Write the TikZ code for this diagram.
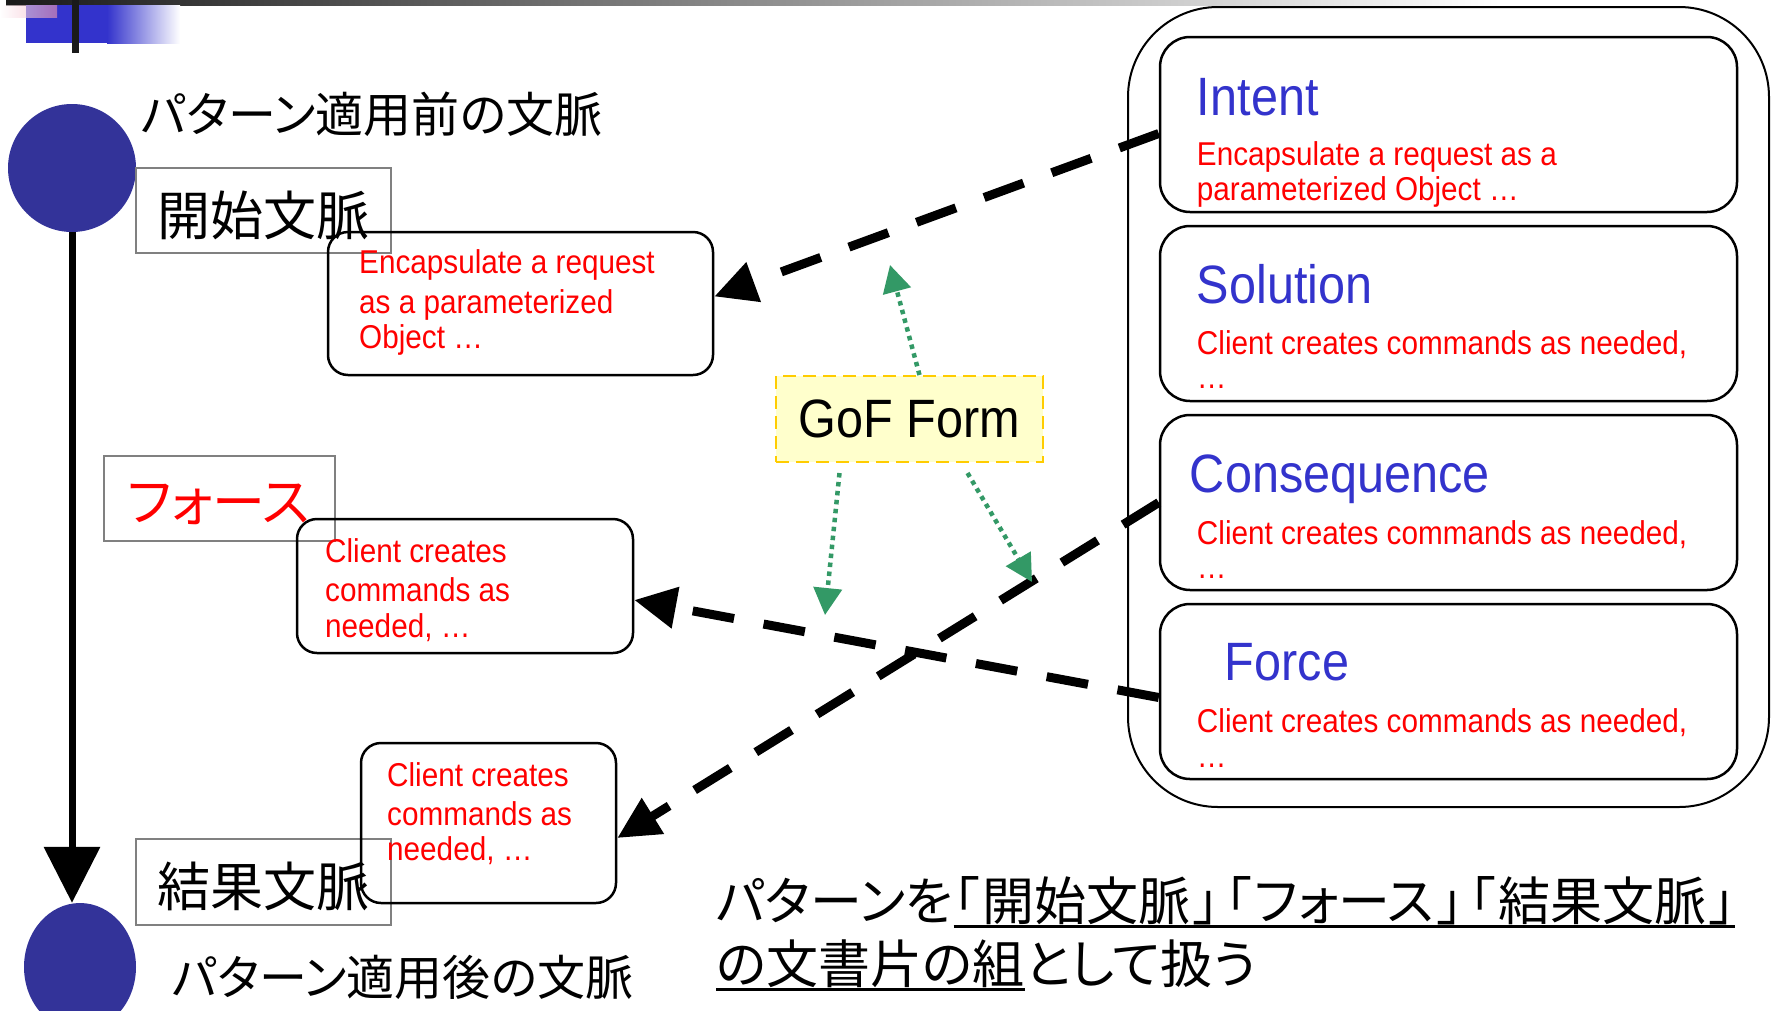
\documentclass[tikz,border=0pt]{standalone}
\usepackage{fontspec}
\setmainfont{Liberation Sans}
\newfontfamily\lat{Liberation Sans}[FakeStretch=0.9]
\newfontfamily\jp{Noto Sans CJK JP}[RawFeature=+palt]
\usetikzlibrary{arrows.meta,calc,shapes.geometric}
\definecolor{circ}{RGB}{51,51,153}
\definecolor{ttlblue}{RGB}{51,51,204}
\definecolor{grn}{RGB}{51,153,102}
\definecolor{gofy}{RGB}{255,255,204}
\definecolor{gofb}{RGB}{255,204,0}
\definecolor{lblgray}{RGB}{128,128,128}
\definecolor{topblue}{RGB}{51,51,204}
\definecolor{darkbar}{RGB}{26,26,26}
\definecolor{pinkish}{RGB}{240,150,175}
\begin{document}
\begin{tikzpicture}[x=1pt,y=-1pt,
  lbl/.style={draw=lblgray, line width=1.5pt, inner sep=0pt},
  ctx/.style={draw, line width=2.5pt, rounded corners=20pt, inner sep=0pt},
  part/.style={draw, line width=2.5pt, rounded corners=30pt, minimum width=577pt, minimum height=175pt, inner sep=0pt},
  rl/.style={anchor=base west, inner sep=0pt, text=red, font=\lat\fontsize{33}{35}\selectfont},
  ttl/.style={anchor=base west, inner sep=0pt, text=ttlblue, font=\lat\fontsize{54}{60}\selectfont},
  jlbl/.style={inner sep=0pt, font=\jp\fontsize{53}{58}\selectfont},
  jtxt/.style={inner sep=0pt, anchor=west, font=\jp\fontsize{48}{52}\selectfont},
  jbig/.style={anchor=base west, inner sep=0pt, font=\jp\fontsize{52}{56}\selectfont},
  darrow/.style={line width=9pt, dash pattern=on 42pt off 30pt, -{Triangle[length=42pt,width=40pt]}},
  garrow/.style={draw=grn, line width=4.5pt, dash pattern=on 4.5pt off 4.5pt, -{Triangle[length=27pt,width=28pt]}},
]
\useasboundingbox (0,0) rectangle (1772,1010);
\fill[white] (0,0) rectangle (1772,1010);

% top decoration
\shade[left color=darkbar, right color=white] (6,0) rectangle (1500,5);
\fill[topblue] (26,5) rectangle (107,43);
\shade[left color=topblue, right color=white] (107,5) rectangle (180,43);
\shade[left color=white, right color=pinkish, opacity=0.6] (0,5) rectangle (57,17);
\fill[darkbar] (72,0) rectangle (79,53);

% timeline
\node[circle, fill=circ, minimum size=128pt, inner sep=0pt] (topc) at (72,168) {};
\node[ellipse, fill=circ, minimum width=112pt, minimum height=128pt, inner sep=0pt] (botc) at (80,967) {};
\draw[line width=7pt, -{Triangle[length=56pt,width=55pt]}] (topc.south) -- (topc.south |- botc.north);

\node[jtxt] (pre) at (141,114) {パターン適用前の文脈};
\node[jtxt] (post) at (172,977) {パターン適用後の文脈};

% label boxes
\node[lbl, minimum width=255pt, minimum height=85pt] (l1) at (263.5,210.5) {};
\node[jlbl] (l1t) at ($(l1.center)+(0,4.5)$) {開始文脈};
\node[lbl, minimum width=231pt, minimum height=85pt] (l2) at (219.5,498.5) {};
\node[jlbl, text=red] (l2t) at ($(l2.center)+(-1,5.5)$) {フォース};
\node[lbl, minimum width=255pt, minimum height=86pt] (l3) at (263.5,882) {};
\node[jlbl] (l3t) at ($(l3.center)+(0,4.5)$) {結果文脈};

% context boxes
\node[ctx, minimum width=385pt, minimum height=143pt] (b1) at (520.5,303.5) {};
\node[rl] (b1a) at (359,273) {Encapsulate a request};
\node[rl] (b1b) at (359,313) {as a parameterized};
\node[rl] (b1c) at (359,348) {Object …};
\node[ctx, minimum width=336pt, minimum height=134pt] (b2) at (465,586) {};
\node[rl] (b2a) at (325,562) {Client creates};
\node[rl] (b2b) at (325,601) {commands as};
\node[rl] (b2c) at (325,637) {needed, …};
\node[ctx, minimum width=255pt, minimum height=160pt] (b3) at (488.5,823) {};
\node[rl] (b3a) at (387,786) {Client creates};
\node[rl] (b3b) at (387,825) {commands as};
\node[rl] (b3c) at (387,860) {needed, …};

% GoF form
\node[draw, line width=2pt, rounded corners=90pt, minimum width=641pt, minimum height=800pt, inner sep=0pt] (form) at (1448.5,407) {};
\node[part] (intent) at (1448.5,124.5) {};
\node[part] (sol) at (1448.5,313.5) {};
\node[part] (cons) at (1448.5,502.5) {};
\node[part] (force) at (1448.5,691.5) {};

\node[ttl] (intentT) at ($(intent.north west)+(38,80)$) {Intent};
\node[rl] (intentA) at ($(intent.north west)+(38,130)$) {Encapsulate a request as a};
\node[rl] (intentB) at ($(intent.north west)+(38,165)$) {parameterized Object …};
\node[ttl] (solT) at ($(sol.north west)+(38,79)$) {Solution};
\node[rl] (solA) at ($(sol.north west)+(38,130)$) {Client creates commands as needed,};
\node[rl] (solB) at ($(sol.north west)+(38,164)$) {…};
\node[ttl] (consT) at ($(cons.north west)+(31,79)$) {Consequence};
\node[rl] (consA) at ($(cons.north west)+(38,131)$) {Client creates commands as needed,};
\node[rl] (consB) at ($(cons.north west)+(38,165)$) {…};
\node[ttl] (forceT) at ($(force.north west)+(66,78)$) {Force};
\node[rl] (forceA) at ($(force.north west)+(38,130)$) {Client creates commands as needed,};
\node[rl] (forceB) at ($(force.north west)+(38,165)$) {…};

\node[draw=gofb, fill=gofy, line width=2pt, dash pattern=on 13pt off 7pt, minimum width=267pt, minimum height=86pt, inner sep=0pt, font=\lat\fontsize{54}{60}\selectfont] (gof) at (909.5,419) {GoF Form};

% black dashed arrows
\draw[darrow] ($(intent.west)+(0,9)$) -- ($(b1.east)+(0,-7)$);
\draw[darrow] (cons.west) -- ($(b3.east)+(0,15)$);
\draw[darrow] ($(force.west)+(0,6)$) -- ($(b2.east)+(0,14)$);

% green dotted arrows
\coordinate (g1) at (890,265);
\coordinate (g2) at (825,615);
\coordinate (g3) at (1032,582);
\draw[garrow] ($(gof.north)+(10,0)$) -- (g1);
\draw[garrow] ($(gof.south)+(-70,10)$) -- (g2);
\draw[garrow] ($(gof.south)+(58,10)$) -- (g3);

% bottom text
\node[jbig] (q1) at (716,920) {パターンを};
\node[jbig] (q2) at (q1.base east) {「\kern3pt開始文脈\kern3pt」\kern6pt「\kern3ptフォース\kern3pt」\kern6pt「\kern3pt結果文脈\kern3pt」};
\draw[line width=3pt] ($(q2.base west)+(0,6)$) -- ($(q2.base east)+(0,6)$);
\node[jbig] (q3) at (716,983) {の文書片の組};
\node[jbig] (q4) at (q3.base east) {として扱う};
\draw[line width=3pt] ($(q3.base west)+(0,6)$) -- ($(q3.base east)+(0,6)$);
\end{tikzpicture}
\end{document}
